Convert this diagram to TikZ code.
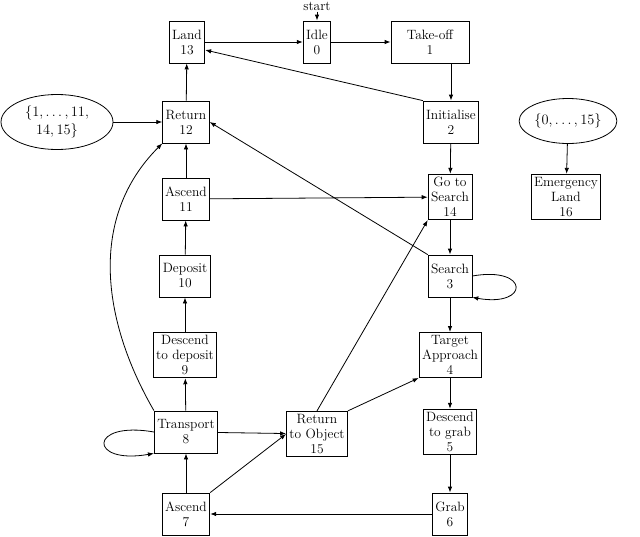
\documentclass[tikz,border=0pt]{standalone}
\usetikzlibrary{arrows.meta,shapes.geometric}
\begin{document}
\begin{tikzpicture}[x=1pt,y=-1pt,
 box/.style={draw,thick,align=center,inner sep=3pt,font=\fontsize{13.5}{15}\selectfont,minimum height=42pt},
 ell/.style={draw,thick,ellipse,align=center,inner sep=1pt,font=\fontsize{13.5}{18}\selectfont},
 >={Latex[length=6pt,width=4.5pt]}, every path/.style={thick}]
\useasboundingbox (0,0) rectangle (640,536);
\node[box] (n13) at (187,42) {Land\\13};
\node[box] (n0) at (317,42) {Idle\\0};
\node[box,minimum width=78pt] (n1) at (430,42) {Take-off\\1};
\node[box] (n2) at (451,122) {Initialise\\2};
\node[box] (n12) at (186,122) {Return\\12};
\node[ell,minimum width=112pt,minimum height=55pt] (e1) at (57,122) {$\{1,\ldots,11,$\\$14,15\}$};
\node[box] (n11) at (186,199) {Ascend\\11};
\node[box] (n14) at (450,197) {Go to\\Search\\14};
\node[ell,minimum width=96pt,minimum height=45pt] (e2) at (568,121) {$\{0,\ldots,15\}$};
\node[box] (n16) at (566,197) {Emergency\\Land\\16};
\node[box] (n10) at (185,276) {Deposit\\10};
\node[box] (n3) at (450,276) {Search\\3};
\node[box] (n9) at (185,355) {Descend\\to deposit\\9};
\node[box] (n4) at (450,355) {Target\\Approach\\4};
\node[box] (n8) at (186,432) {Transport\\8};
\node[box] (n15) at (317,434) {Return\\to Object\\15};
\node[box] (n5) at (450,432) {Descend\\to grab\\5};
\node[box] (n7) at (186,514) {Ascend\\7};
\node[box] (n6) at (450,514) {Grab\\6};
\node[font=\fontsize{13.5}{15}\selectfont,inner sep=1pt] (st) at (317,6) {start};
\draw[->] (st) -- (n0);
\draw[->] (n13) -- (n0);
\draw[->] (n0) -- (n1);
\draw[->] (n2.north |- n1.south) -- (n2.north);
\draw[->] (n2.north west) -- ([yshift=-8pt]n13.east);
\draw[->] (n2) -- (n14);
\draw[->] (n12) -- (n13);
\draw[->] (e1) -- (n12);
\draw[->] (n11) -- (n12);
\draw[->] (n11) -- (n14);
\draw[->] (n3.north west) -- (n12.east);
\draw[->] (n14) -- (n3);
\draw[->] (n3.east) to[out=10,in=-10,looseness=7] (n3.south east);
\draw[->] (n3) -- (n4);
\draw[->] (n4) -- (n5);
\draw[->] (n5) -- (n6);
\draw[->] (n6) -- (n7);
\draw[->] (n7) -- (n8);
\draw[->] (n7.north east) -- (n15.west);
\draw[->] (n8) -- (n15);
\draw[->] (n8.west) to[out=170,in=190,looseness=8] (n8.south west);
\draw[->] (n8) -- (n9);
\draw[->] (n9) -- (n10);
\draw[->] (n10) -- (n11);
\draw[->] (n8.north west) to[out=120,in=225] (n12.south west);
\draw[->] (n15.north east) -- (n4.south west);
\draw[->] (n15.north) -- (n14.south west);
\draw[->] (e2) -- (n16);
\end{tikzpicture}
\end{document}
